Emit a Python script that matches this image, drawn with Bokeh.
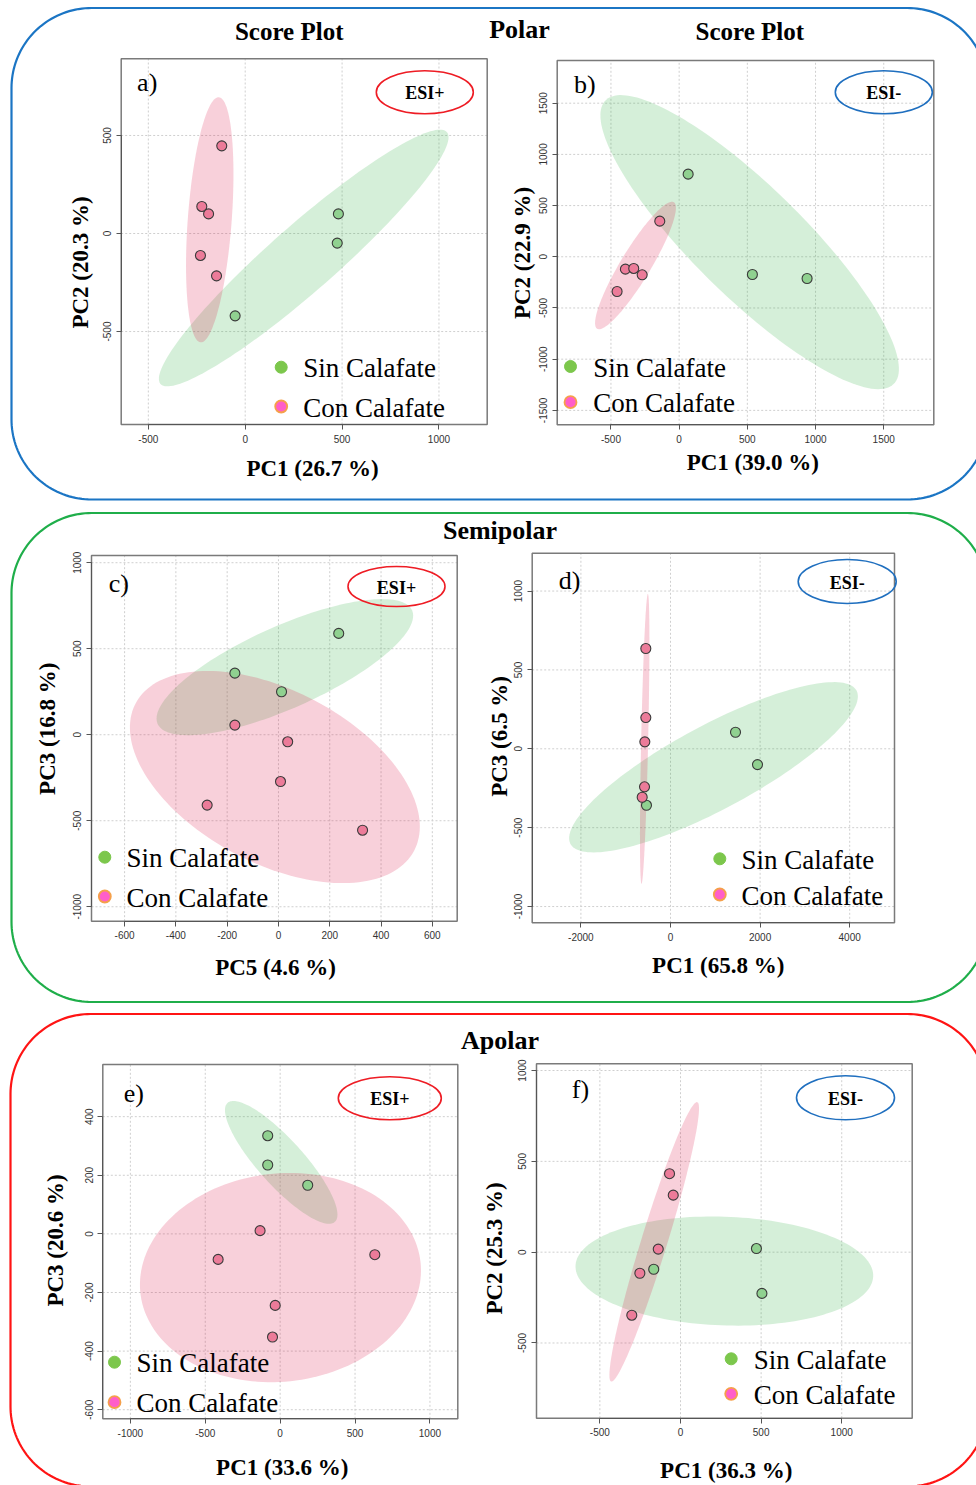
import numpy as np
from bokeh.plotting import figure
from bokeh.models import Range1d, LinearAxis, FixedTicker, PrintfTickFormatter
from bokeh.core.properties import value
from bokeh.embed import file_html
from bokeh.resources import INLINE

W, H = 976, 1485
groups = ["Sin Calafate", "Con Calafate"]

# ---------------- data (PCA scores) ----------------
a_x_sin = [481, 475, -52];  a_y_sin = [100, -49, -420]
a_x_con = [-121, -224, -189, -231, -148]; a_y_con = [447, 138, 100, -112, -216]
b_x_sin = [66, 537, 938];   b_y_sin = [807, -173, -212]
b_x_con = [-142, -394, -333, -271, -455]; b_y_con = [348, -121, -114, -176, -339]
c_x_sin = [235, -170, 12];  c_y_sin = [589, 358, 250]
c_x_con = [-170, 36, 8, -278, 328]; c_y_con = [56, -41, -272, -409, -555]
d_x_sin = [1451, 1942, -536]; d_y_sin = [105, -100, -358]
d_x_con = [-551, -551, -573, -580, -632]; d_y_con = [636, 198, 44, -241, -307]
e_x_sin = [-83, -83, 184];  e_y_sin = [335, 235, 166]
e_x_con = [-134, -414, 632, -33, -51]; e_y_con = [11, -87, -71, -244, -352]
f_x_sin = [471, 505, -166]; f_y_sin = [20, -227, -94]
f_x_con = [-68, -45, -138, -252, -302]; f_y_con = [432, 314, 17, -116, -347]

# confidence ellipses: centre, conjugate semi-axis vectors (data units)
a_ell_sin = [(302, -125), (739, 642), (112, -127)]
a_ell_con = [(-183, 70), (47, 625), (113, -8)]
b_ell_sin = [(517, 143), (1057, -1384), (283, 383)]
b_ell_con = [(-320, -85), (281, 618), (94, -76)]
c_ell_sin = [(25, 393), (496, 330), (65, -218)]
c_ell_con = [(-14, -246), (543, -428), (157, 444)]
d_ell_sin = [(960, -117), (3192, 486), (442, -235)]
d_ell_con = [(-576, 63), (71, 919), (78, 0)]
e_ell_sin = [(7, 244), (358, -203), (113, 52)]
e_ell_con = [(2, -149), (935, 53), (76, -353)]
f_ell_sin = [(272, -104), (923, -29), (-12, -299)]
f_ell_con = [(-163, 57), (267, 769), (77, -21)]

# axis limits and ticks
a_xlim = (-640, 1249); a_ylim = (-974, 891)
b_xlim = (-894, 1867); b_ylim = (-1641, 1917)
c_xlim = (-729, 697);  c_ylim = (-1084, 1042)
d_xlim = (-3087, 5000); d_ylim = (-1103, 1240)
e_xlim = (-1184, 1186); e_ylim = (-631, 578)
f_xlim = (-893, 1437); f_ylim = (-914, 1037)
a_xticks = [-500, 0, 500, 1000]; a_yticks = [-500, 0, 500]
b_xticks = [-500, 0, 500, 1000, 1500]; b_yticks = [-1500, -1000, -500, 0, 500, 1000, 1500]
c_xticks = [-600, -400, -200, 0, 200, 400, 600]; c_yticks = [-1000, -500, 0, 500, 1000]
d_xticks = [-2000, 0, 2000, 4000]; d_yticks = [-1000, -500, 0, 500, 1000]
e_xticks = [-1000, -500, 0, 500, 1000]; e_yticks = [-600, -400, -200, 0, 200, 400]
f_xticks = [-500, 0, 500, 1000]; f_yticks = [-500, 0, 500, 1000]

x_titles = ["PC1 (26.7 %)", "PC1 (39.0 %)", "PC5 (4.6 %)", "PC1 (65.8 %)", "PC1 (33.6 %)", "PC1 (36.3 %)"]
y_titles = ["PC2 (20.3 %)", "PC2 (22.9 %)", "PC3 (16.8 %)", "PC3 (6.5 %)", "PC3 (20.6 %)", "PC2 (25.3 %)"]
panel_tags = ["a)", "b)", "c)", "d)", "e)", "f)"]
esi_labels = ["ESI+", "ESI-", "ESI+", "ESI-", "ESI+", "ESI-"]
section_titles = ["Polar", "Semipolar", "Apolar"]
score_title = "Score Plot"

# ---------------- styling ----------------
SERIF = value("Liberation Serif")
SIN_PT, CON_PT, PT_LINE = "#90d190", "#ec7b99", "#3a3a3a"
SIN_ELL, CON_ELL = "#2daf41", "#dc1446"
LEG_SIN, LEG_CON, LEG_CON_LINE = "#7cc74c", "#ff5ec9", "#f5a04a"
RED, BLUE = "#ee1c24", "#1f6fbf"
BOX_COLORS = ["#1b75c4", "#1fae4a", "#ff1414"]

p = figure(width=W, height=H, x_range=Range1d(0, W), y_range=Range1d(H, 0),
           output_backend="svg", toolbar_location=None, min_border=0,
           x_axis_location=None, y_axis_location=None)
p.grid.visible = False
p.outline_line_color = None
p.background_fill_color = "white"
p.border_fill_color = "white"


def txt(x, y, s, size, bold=False, angle=0.0, align="center", color="black", font=SERIF):
    p.text(x=[x], y=[y], text=[s], text_font=font, text_font_size=value(f"{size}px"),
           text_font_style="bold" if bold else "normal", text_align=align,
           text_baseline="middle", angle=angle, text_color=color)


def rounded_box(L, T, R, B, r, color):
    xs, ys = [], []
    corners = [(R - r, T + r, -np.pi / 2, 0), (R - r, B - r, 0, np.pi / 2),
               (L + r, B - r, np.pi / 2, np.pi), (L + r, T + r, np.pi, 1.5 * np.pi)]
    for cx, cy, a0, a1 in corners:
        t = np.linspace(a0, a1, 40)
        xs += list(cx + r * np.cos(t)); ys += list(cy + r * np.sin(t))
    xs.append(xs[0]); ys.append(ys[0])
    p.line(xs, ys, line_color=color, line_width=2.2)


def ellipse_pts(spec, n=160):
    (cx, cy), (ux, uy), (vx, vy) = spec
    t = np.linspace(0, 2 * np.pi, n)
    return cx + ux * np.cos(t) + vx * np.sin(t), cy + uy * np.cos(t) + vy * np.sin(t)


def panel(i, box, xlim, ylim, xticks, yticks, xs_sin, ys_sin, xs_con, ys_con, el_sin, el_con,
          tag_pos, esi_pos, leg_pos, xt_pos, yt_pos):
    L, R, T, B = box
    x0, x1 = xlim; y0, y1 = ylim
    sx = (x1 - x0) / (R - L); sy = (y1 - y0) / (B - T)
    kx, ky = f"x{i}", f"y{i}"
    p.extra_x_ranges[kx] = Range1d(x0 - sx * L, x1 + sx * (W - R))
    p.extra_y_ranges[ky] = Range1d(y0 - sy * (H - B), y1 + sy * T)
    kw = dict(x_range_name=kx, y_range_name=ky)
    # grid
    p.segment(x0=xticks, y0=[y0] * len(xticks), x1=xticks, y1=[y1] * len(xticks),
              line_color="#cfcfcf", line_dash="2 2", line_width=1, **kw)
    p.segment(x0=[x0] * len(yticks), y0=yticks, x1=[x1] * len(yticks), y1=yticks,
              line_color="#cfcfcf", line_dash="2 2", line_width=1, **kw)
    # ellipses
    ex, ey = ellipse_pts(el_sin)
    p.patch(ex, ey, fill_color=SIN_ELL, fill_alpha=0.2, line_color=None, **kw)
    ex, ey = ellipse_pts(el_con)
    p.patch(ex, ey, fill_color=CON_ELL, fill_alpha=0.2, line_color=None, **kw)
    # frame
    p.quad(left=[x0], right=[x1], bottom=[y0], top=[y1], fill_color=None,
           line_color="#7a7a7a", line_width=1.5, **kw)
    # points
    p.scatter(xs_sin, ys_sin, size=10, fill_color=SIN_PT, line_color=PT_LINE, line_width=1.1, **kw)
    p.scatter(xs_con, ys_con, size=10, fill_color=CON_PT, line_color=PT_LINE, line_width=1.1, **kw)
    # axes
    common = dict(major_tick_in=0, major_tick_out=5, minor_tick_line_color=None,
                  axis_line_color="#555555", major_tick_line_color="#555555",
                  major_label_text_font="Liberation Sans",
                  major_label_text_font_size="10px", major_label_text_color="#333333",
                  major_label_standoff=5)
    xa = LinearAxis(x_range_name=kx, y_range_name=ky, fixed_location=y0,
                    bounds=(xticks[0], xticks[-1]), ticker=FixedTicker(ticks=xticks),
                    formatter=PrintfTickFormatter(format="%d"), **common)
    p.add_layout(xa, "below")
    ya = LinearAxis(x_range_name=kx, y_range_name=ky, fixed_location=x0,
                    bounds=(yticks[0], yticks[-1]), ticker=FixedTicker(ticks=yticks),
                    formatter=PrintfTickFormatter(format="%d"),
                    major_label_orientation="vertical", **common)
    p.add_layout(ya, "left")
    # panel tag
    txt(tag_pos[0], tag_pos[1], panel_tags[i], 26)
    # ESI badge
    cx, cy, w, h = esi_pos
    col = RED if esi_labels[i] == "ESI+" else BLUE
    p.ellipse(x=[cx], y=[cy], width=w, height=h, fill_color=None, line_color=col, line_width=1.6)
    txt(cx, cy + 1, esi_labels[i], 18, bold=True)
    # legend
    lx, ly1, ly2, tx = leg_pos
    p.scatter([lx], [ly1], size=12, fill_color=LEG_SIN, line_color=LEG_SIN, line_width=1)
    p.scatter([lx], [ly2], size=12, fill_color=LEG_CON, line_color=LEG_CON_LINE, line_width=1.8)
    txt(tx, ly1 + 1, groups[0], 27, align="left")
    txt(tx, ly2 + 1, groups[1], 27, align="left")
    # axis titles
    txt(xt_pos[0], xt_pos[1], x_titles[i], 23, bold=True)
    txt(yt_pos[0], yt_pos[1], y_titles[i], 23, bold=True, angle=np.pi / 2)


# section boxes and titles
rounded_box(11, 7.5, 987, 499, 80, BOX_COLORS[0])
rounded_box(11, 512.5, 987, 1001.5, 80, BOX_COLORS[1])
rounded_box(10, 1013.5, 987, 1486, 80, BOX_COLORS[2])
txt(519, 28.5, section_titles[0], 26, bold=True)
txt(499.5, 529.5, section_titles[1], 26, bold=True)
txt(499.5, 1040, section_titles[2], 26, bold=True)
txt(288.7, 30.5, score_title, 25, bold=True)
txt(749.3, 30.5, score_title, 25, bold=True)

panel(0, (120.7, 486.7, 58.3, 424), a_xlim, a_ylim, a_xticks, a_yticks,
      a_x_sin, a_y_sin, a_x_con, a_y_con, a_ell_sin, a_ell_con,
      (146.7, 81.7), (424.3, 91.7, 97, 43), (280.7, 366.7, 406, 302.7), (312, 468), (80, 262))
panel(1, (556.7, 933.3, 60, 424.3), b_xlim, b_ylim, b_xticks, b_yticks,
      b_x_sin, b_y_sin, b_x_con, b_y_con, b_ell_sin, b_ell_con,
      (584.3, 84), (883.3, 91.7, 97, 43), (570, 366, 401.7, 592.7), (752.3, 461.7), (521.7, 252.5))
panel(2, (91, 456.7, 555, 920.7), c_xlim, c_ylim, c_xticks, c_yticks,
      c_x_sin, c_y_sin, c_x_con, c_y_con, c_ell_sin, c_ell_con,
      (118.3, 582.7), (396, 586, 97, 40), (104.3, 856.7, 896, 126), (275, 966.7), (46.7, 728.3))
panel(3, (531.7, 894, 552.7, 922.3), d_xlim, d_ylim, d_xticks, d_yticks,
      d_x_sin, d_y_sin, d_x_con, d_y_con, d_ell_sin, d_ell_con,
      (569, 580), (846.7, 581, 98, 44), (719.3, 858.3, 894, 741), (717.7, 965), (499, 736))
panel(4, (102.3, 457.3, 1064, 1418.3), e_xlim, e_ylim, e_xticks, e_yticks,
      e_x_sin, e_y_sin, e_x_con, e_y_con, e_ell_sin, e_ell_con,
      (133.3, 1093.3), (389.3, 1097.7, 103, 43), (114, 1361.7, 1401.7, 136), (281.7, 1466.7), (55, 1240))
panel(5, (536, 911.7, 1063.3, 1417.7), f_xlim, f_ylim, f_xticks, f_yticks,
      f_x_sin, f_y_sin, f_x_con, f_y_con, f_ell_sin, f_ell_con,
      (580, 1089.3), (845, 1097.3, 98, 44), (730.7, 1358.3, 1393.3, 753.3), (725.7, 1470), (494, 1248))

open("out.html", "w").write(file_html(p, INLINE))
